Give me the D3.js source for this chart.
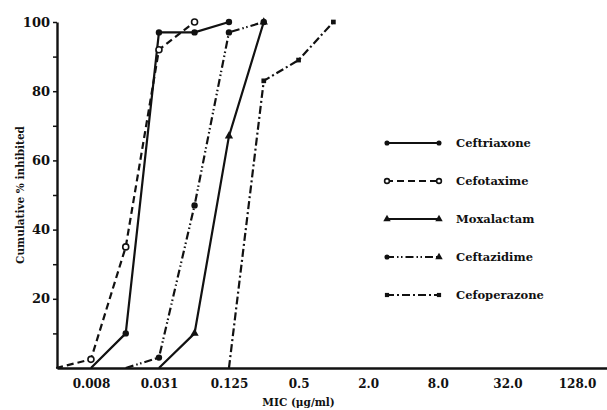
<!DOCTYPE html>
<html>
<head>
<meta charset="utf-8">
<script src="https://cdn.jsdelivr.net/npm/d3@7"></script>
<style>
  body { margin: 0; background: #fff; }
  text { font-family: 'DejaVu Serif', 'Liberation Serif', serif; font-weight: bold; fill: #111; }
</style>
</head>
<body>
<div id="chart"></div>
<script>
// MIC values (ug/ml) and cumulative % inhibited
const ceftriaxone = [[0.008, 0], [0.016, 10], [0.031, 97], [0.063, 97], [0.125, 100]];
const cefotaxime = [[0.004, 0], [0.008, 2.5], [0.016, 35], [0.031, 92], [0.063, 100]];
const moxalactam = [[0.031, 0], [0.063, 10], [0.125, 67], [0.25, 100]];
const ceftazidime = [[0.016, 0], [0.031, 3], [0.063, 47], [0.125, 97], [0.25, 100]];
const cefoperazone = [[0.125, 0], [0.25, 83], [0.5, 89], [1.0, 100]];

const seriesNames = ['Ceftriaxone', 'Cefotaxime', 'Moxalactam', 'Ceftazidime', 'Cefoperazone'];
const xTickValues = [0.008, 0.031, 0.125, 0.5, 2, 8, 32, 128];
const xTickLabels = ['0.008', '0.031', '0.125', '0.5', '2.0', '8.0', '32.0', '128.0'];
const yTickValues = [10, 20, 30, 40, 50, 60, 70, 80, 90, 100];
const yTickLabels = ['', '20', '', '40', '', '60', '', '80', '', '100'];

const width = 607, height = 410;
const margin = {top: 22, right: 0, bottom: 42, left: 57};

const series = [
  {name: seriesNames[0], data: ceftriaxone, dash: null, marker: 'dot', end: 'dot'},
  {name: seriesNames[1], data: cefotaxime, dash: '7,4', marker: 'open', end: 'open'},
  {name: seriesNames[2], data: moxalactam, dash: null, marker: 'tri', end: 'tri'},
  {name: seriesNames[3], data: ceftazidime, dash: '8,3,1.5,2.5,1.5,3', marker: 'dot', end: 'tri'},
  {name: seriesNames[4], data: cefoperazone, dash: '8,3,2,3', marker: 'sq', end: 'sq'}
];

const svg = d3.select('#chart').append('svg')
  .attr('width', width)
  .attr('height', height);

// log2 scale: one doubling dilution is ~35px
const x = d3.scaleLog().base(2)
  .domain([0.00407, 232.6])
  .range([margin.left, width - margin.right]);
const y = d3.scaleLinear()
  .domain([0, 100])
  .range([height - margin.bottom, margin.top]);

const y0 = y(0);

// X axis
const xAxis = d3.axisBottom(x)
  .tickValues(xTickValues)
  .tickFormat((d, i) => xTickLabels[i])
  .tickSize(0)
  .tickPadding(11);
const gx = svg.append('g')
  .attr('transform', `translate(0,${y0})`)
  .call(xAxis);
gx.select('.domain').attr('stroke', '#111').attr('stroke-width', 2.4);
gx.selectAll('text').style('font-size', '12px').attr('fill', '#111');

// Y axis
const yAxis = d3.axisLeft(y)
  .tickValues(yTickValues)
  .tickFormat((d, i) => yTickLabels[i])
  .tickSize(4)
  .tickSizeOuter(0)
  .tickPadding(3);
const gy = svg.append('g')
  .attr('transform', `translate(${margin.left},0)`)
  .call(yAxis);
gy.select('.domain').attr('stroke', '#111').attr('stroke-width', 2.4);
gy.selectAll('line').attr('stroke', '#111').attr('stroke-width', 1.5);
gy.selectAll('text').style('font-size', '13px').attr('fill', '#111');

// axis titles
svg.append('text')
  .attr('transform', `translate(24,${y(50)}) rotate(-90)`)
  .style('text-anchor', 'middle')
  .style('font-size', '10.5px')
  .text('Cumulative % inhibited');

svg.append('text')
  .attr('x', x(0.5))
  .attr('y', height - 4)
  .style('text-anchor', 'middle')
  .style('font-size', '10.5px')
  .text('MIC (\u03bcg/ml)');

const line = d3.line()
  .x(d => x(d[0]))
  .y(d => y(d[1]));

function drawMarker(g, type, cx, cy, scale) {
  const s = scale || 1;
  if (type === 'dot') {
    g.append('circle').attr('cx', cx).attr('cy', cy).attr('r', 3.2 * s).attr('fill', '#111');
  } else if (type === 'open') {
    g.append('circle').attr('cx', cx).attr('cy', cy).attr('r', 3 * s)
      .attr('fill', '#fff').attr('stroke', '#111').attr('stroke-width', 1.6);
  } else if (type === 'tri') {
    g.append('path').attr('transform', `translate(${cx},${cy})`)
      .attr('d', d3.symbol(d3.symbolTriangle, 30 * s)).attr('fill', '#111');
  } else {
    g.append('path').attr('transform', `translate(${cx},${cy})`)
      .attr('d', d3.symbol(d3.symbolSquare, 22 * s)).attr('fill', '#111');
  }
}

// Lines and markers
series.forEach(s => {
  svg.append('path')
    .datum(s.data)
    .attr('fill', 'none')
    .attr('stroke', '#111')
    .attr('stroke-width', 2.2)
    .attr('stroke-dasharray', s.dash)
    .attr('d', line);

  const gm = svg.append('g');
  s.data.filter(d => d[1] > 0).forEach(d => drawMarker(gm, s.marker, x(d[0]), y(d[1])));
});

// Legend
const legend = svg.append('g').attr('transform', 'translate(386,143)');
series.forEach((s, i) => {
  const row = legend.append('g').attr('transform', `translate(0,${i * 38})`);
  row.append('line')
    .attr('x1', 0).attr('x2', 54)
    .attr('y1', 0).attr('y2', 0)
    .attr('stroke', '#111')
    .attr('stroke-width', 1.8)
    .attr('stroke-dasharray', s.dash);
  drawMarker(row, s.marker, 1, 0, 0.8);
  drawMarker(row, s.end, 53, 0, 0.8);
  row.append('text')
    .attr('x', 70)
    .attr('y', 4)
    .style('font-size', '11.5px')
    .text(s.name);
});
</script>
</body>
</html>
